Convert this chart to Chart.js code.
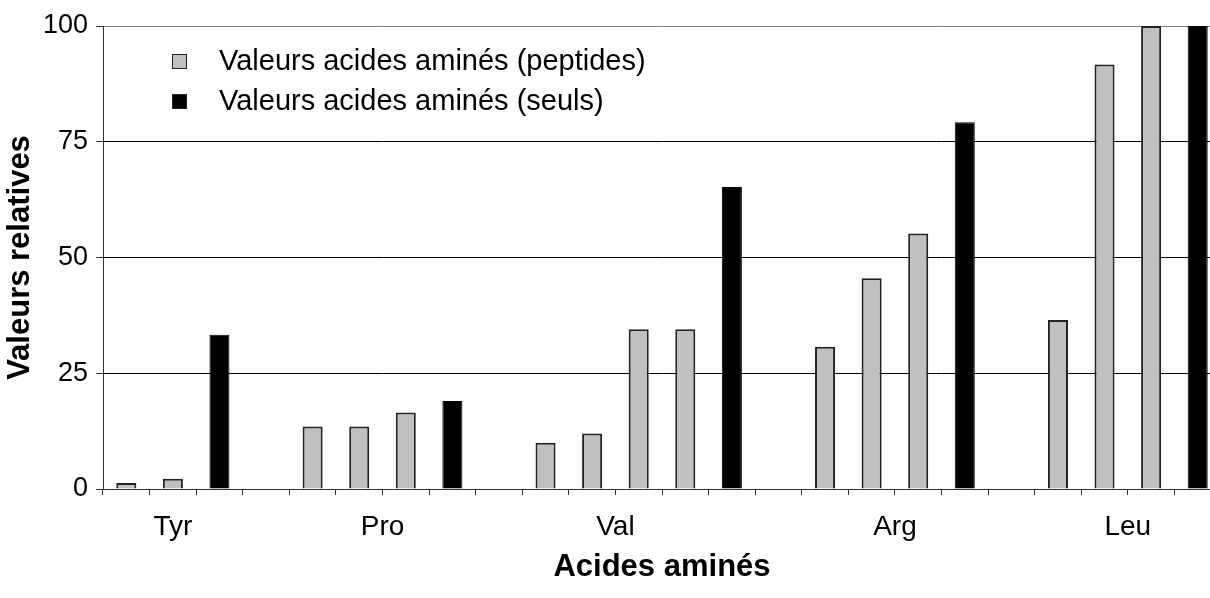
<!DOCTYPE html>
<html>
<head>
<meta charset="utf-8">
<script src="https://cdn.jsdelivr.net/npm/chart.js@4"></script>
<style>
  html, body { margin: 0; padding: 0; background: #fff; overflow: hidden; }
  #wrap { width: 1222px; height: 598px; }
</style>
</head>
<body>
<div id="wrap"><canvas id="chart"></canvas></div>
<script>
const acides = ["Tyr", "Pro", "Val", "Arg", "Leu"];
const peptides = [[1.3, 2.2], [13.5, 13.5, 16.5], [10, 12, 34.5, 34.5], [30.7, 45.5, 55.2], [36.5, 91.7, 100]];
const seuls = [33.3, 19, 65.2, 79.2, 100];
const yTicks = [0, 25, 50, 75, 100];
const seriesNames = ["Valeurs acides aminés (peptides)", "Valeurs acides aminés (seuls)"];

// one slot per bar, and an empty slot between two groups
let slotLabels = [], pepData = [], seulData = [];
acides.forEach((a, g) => {
    peptides[g].forEach(v => { slotLabels.push(a); pepData.push(v); seulData.push(null); });
    slotLabels.push(a); pepData.push(null); seulData.push(seuls[g]);
    if (g < acides.length - 1) { slotLabels.push(""); pepData.push(null); seulData.push(null); }
});

// where the group names sit, in slot units
const labelSlots = [1, 5.5, 10.5, 16.5, 21.5];
const font = "'Liberation Sans', Arial, sans-serif";

const insideLegend = {
    id: "insideLegend",
    afterDraw(chart) {
        const ctx = chart.ctx;
        ctx.save();
        ctx.font = "29px " + font;
        ctx.textBaseline = "middle";
        chart.data.datasets.forEach((ds, i) => {
            const y = 61 + i * 40;
            ctx.fillStyle = ds.backgroundColor;
            ctx.fillRect(172, y - 7, 15, 15);
            ctx.strokeStyle = "#222";
            ctx.lineWidth = 1;
            ctx.strokeRect(172.5, y - 6.5, 14, 14);
            ctx.fillStyle = "#000";
            ctx.fillText(ds.label, 219, y + 1);
        });
        ctx.restore();
    }
};

new Chart(document.getElementById("chart"), {
    type: "bar",
    data: {
        labels: slotLabels,
        datasets: [
            { label: seriesNames[0], data: pepData, backgroundColor: "#C0C0C0", borderColor: "#222", borderWidth: 2 },
            { label: seriesNames[1], data: seulData, backgroundColor: "#000000", borderColor: "#000000", borderWidth: 1 },
        ],
    },
    options: {
        responsive: true,
        maintainAspectRatio: false,
        animation: false,
        layout: { padding: { top: 26, right: 1, left: 0, bottom: 0 } },
        datasets: { bar: { grouped: false, categoryPercentage: 1, barPercentage: 0.43 } },
        plugins: { legend: { display: false }, tooltip: { enabled: false } },
        scales: {
            x: {
                grid: { offset: true, drawOnChartArea: false, drawTicks: true, tickLength: 6, color: "#333", lineWidth: 1 },
                border: { color: "#333", width: 1 },
                ticks: { display: false },
                afterFit: s => { s.height = 6; },
            },
            x2: {
                type: "linear",
                position: "bottom",
                offset: false,
                min: -0.5,
                max: 23.5,
                grid: { display: false, drawTicks: false, offset: false },
                border: { display: false },
                afterBuildTicks: s => { s.ticks = labelSlots.map(v => ({ value: v })); },
                ticks: {
                    callback: (v, i) => acides[i],
                    font: { family: font, size: 28 },
                    color: "#000",
                    padding: 15,
                    autoSkip: false,
                    maxRotation: 0,
                },
                title: {
                    display: true,
                    text: "Acides aminés",
                    font: { family: font, size: 31, weight: "bold" },
                    color: "#000",
                    padding: { top: 0, bottom: 12 },
                },
                afterFit: s => { s.height = 103; },
            },
            y: {
                min: 0,
                max: 100,
                afterBuildTicks: s => { s.ticks = yTicks.map(v => ({ value: v })); },
                grid: {
                    color: c => (c.tick && c.tick.value === 100 ? "#808080" : "#000"),
                    tickColor: "#333",
                    tickLength: 7,
                    lineWidth: 1,
                },
                border: { color: "#333" },
                ticks: { font: { family: font, size: 27 }, color: "#000", padding: 8 },
                title: {
                    display: true,
                    text: "Valeurs relatives",
                    font: { family: font, size: 31, weight: "bold" },
                    color: "#000",
                    padding: { top: 2, bottom: 0 },
                },
                afterFit: s => { s.width = 103; },
            },
        },
    },
    plugins: [insideLegend],
});
</script>
</body>
</html>
